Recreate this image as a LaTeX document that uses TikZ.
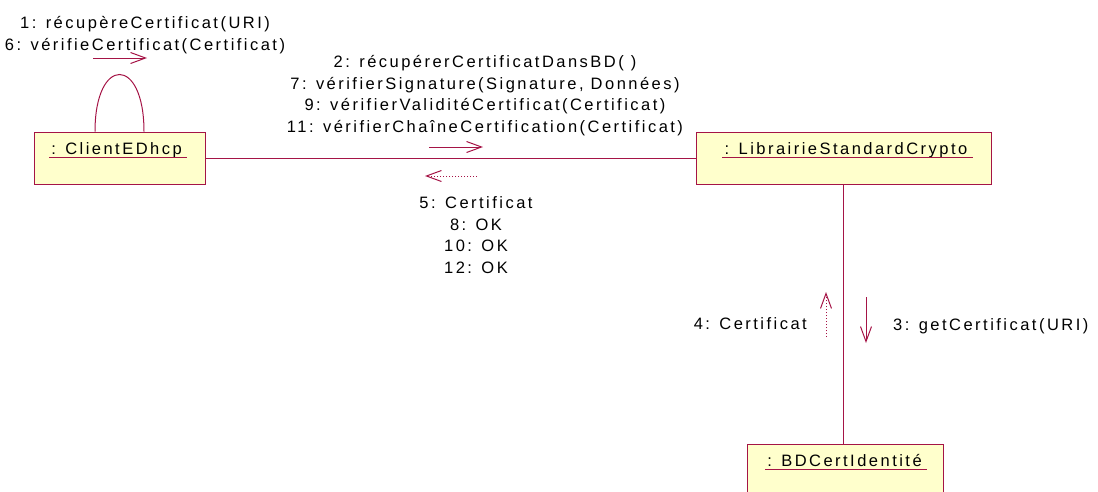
\documentclass[tikz,border=0pt]{standalone}
\usepackage{fontspec}
\setmainfont{Liberation Sans}[LetterSpace=15]
\usetikzlibrary{arrows.meta,calc}
\definecolor{umlred}{RGB}{165,20,70}
\definecolor{umlfill}{RGB}{255,255,204}
\begin{document}
\begin{tikzpicture}[x=1pt,y=-1pt,
  every node/.style={font=\fontsize{16.5}{21.4}\selectfont,text=black},
  umlbox/.style={draw=umlred,fill=umlfill,line width=1pt,inner sep=0pt},
  objname/.style={inner sep=0pt,anchor=base},
  umlline/.style={draw=umlred,line width=1pt},
  msg/.style={umlred,line width=1pt,-{Straight Barb[length=15pt,width=11pt]}},
  ret/.style={msg,dotted},
  msglabel/.style={inner sep=0pt,align=center,anchor=base}]
\useasboundingbox (0,0) rectangle (1098,491);
\clip (0,0) rectangle (1098,491);
% objects
\node[umlbox,minimum width=171pt,minimum height=52pt] (client) at (119.5,158) {};
\node[umlbox,minimum width=295pt,minimum height=52pt] (lib) at (843.5,158) {};
\node[umlbox,minimum width=196pt,minimum height=60pt] (bd) at (845,474) {};
\node[objname] (clientname) at (116.5,154) {: ClientEDhcp};
\node[objname] (libname) at (846,154) {: LibrairieStandardCrypto};
\node[objname] (bdname) at (844.5,466) {: BDCertIdentité};
\foreach \n in {clientname,libname,bdname}
  \draw[umlline] ([xshift=-2pt,yshift=-3pt]\n.base west) -- ([xshift=5pt,yshift=-3pt]\n.base east);
% links
\draw[umlline] (client.east) -- (lib.west);
\draw[umlline] (lib.south) -- (lib.south |- bd.north);
\draw[umlline] ([xshift=-24.5pt]client.north) .. controls +(0,-76) and +(0,-76) .. ([xshift=24.5pt]client.north);
% messages
\coordinate (m1a) at (93,58);   \coordinate (m1b) at (147,58);
\coordinate (m2a) at (429,147); \coordinate (m2b) at (483,147);
\coordinate (r5a) at (477,176); \coordinate (r5b) at (425,176);
\coordinate (r4a) at (826,337); \coordinate (r4b) at (826,292);
\coordinate (m3a) at (866,297); \coordinate (m3b) at (866,343);
\draw[msg] (m1a) -- (m1b);
\draw[msg] (m2a) -- (m2b);
\draw[ret] (r5a) -- (r5b);
\draw[ret] (r4a) -- (r4b);
\draw[msg] (m3a) -- (m3b);
\node[msglabel] (selfmsg) at (145,50) {1: récupèreCertificat(URI)\\6: vérifieCertificat(Certificat)};
\node[msglabel] (libmsg) at (485,132) {2: récupérerCertificatDansBD( )\\7: vérifierSignature(Signature, Données)\\9: vérifierValiditéCertificat(Certificat)\\11: vérifierChaîneCertification(Certificat)};
\node[msglabel] (libret) at (476,273) {5: Certificat\\8: OK\\10: OK\\12: OK};
\node[inner sep=0pt,anchor=base east] (bdret) at (807,329) {4: Certificat};
\node[inner sep=0pt,anchor=base west] (bdmsg) at (893,330) {3: getCertificat(URI)};
\end{tikzpicture}
\end{document}
